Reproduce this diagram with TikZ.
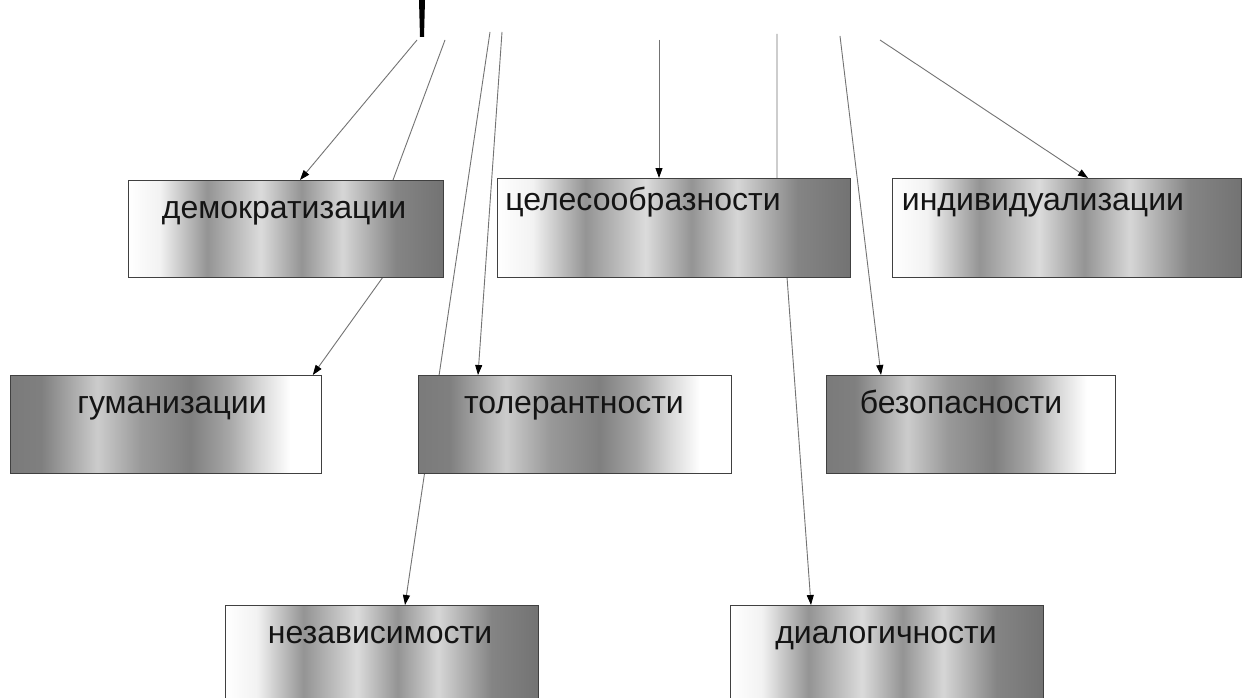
\documentclass[tikz,border=0pt]{standalone}
\usepackage{fontspec}
\setmainfont{Liberation Sans}
\usetikzlibrary{arrows.meta,backgrounds,calc}
\pgfdeclarehorizontalshading{metalA}{100bp}{color(0bp)=(white); color(25bp)=(white); color(30bp)=(black!5); color(37.5bp)=(black!42); color(46bp)=(black!14); color(52.5bp)=(black!42); color(59bp)=(black!16); color(67.5bp)=(black!48); color(75bp)=(black!55); color(100bp)=(black!55)}
\pgfdeclarehorizontalshading{metalB}{100bp}{color(0bp)=(black!52); color(25bp)=(black!52); color(30bp)=(black!50); color(39bp)=(black!20); color(46bp)=(black!40); color(54bp)=(black!50); color(60bp)=(black!35); color(65bp)=(black!16); color(70bp)=(white); color(75bp)=(white); color(100bp)=(white)}
\begin{document}
\begin{tikzpicture}[x=1pt,y=-1pt,
  pbox/.style={rectangle, draw=black!75, line width=0.8pt, inner sep=0pt, anchor=north west, minimum height=97pt},
  lbl/.style={anchor=base, inner sep=0pt, text=black!92, font=\fontsize{32}{38}\selectfont},
  conn/.style={draw=black!55, line width=0.9pt, -{Triangle[length=10pt,width=7pt,color=black]}}]
\useasboundingbox (0,0) rectangle (1247,698);
% boxes
\node[pbox, shading=metalA, minimum width=315pt] (demo) at (128,180) {};
\node[pbox, shading=metalA, minimum width=353pt, minimum height=99pt] (tsel) at (497,178) {};
\node[pbox, shading=metalA, minimum width=349pt, minimum height=99pt] (indiv) at (892,178) {};
\node[pbox, shading=metalB, minimum width=311pt, minimum height=98pt] (guman) at (10,375) {};
\node[pbox, shading=metalB, minimum width=313pt, minimum height=98pt] (tol) at (418,375) {};
\node[pbox, shading=metalB, minimum width=289pt, minimum height=98pt] (bezop) at (826,375) {};
\node[pbox, shading=metalA, minimum width=313pt] (nezav) at (225,605) {};
\node[pbox, shading=metalA, minimum width=313pt] (dialog) at (730,605) {};
% labels
\node[lbl] (demo-t) at (284,218) {демократизации};
\node[lbl] (tsel-t) at (643,210) {целесообразности};
\node[lbl] (indiv-t) at (1043,210) {индивидуализации};
\node[lbl] (guman-t) at (172,413) {гуманизации};
\node[lbl] (tol-t) at (574,413) {толерантности};
\node[lbl] (bezop-t) at (961,413) {безопасности};
\node[lbl] (nezav-t) at (380,643) {независимости};
\node[lbl] (dialog-t) at (886,643) {диалогичности};
% free ends at the cut-off title
\coordinate (s1) at (417,40);
\coordinate (s2) at (445,40);
\coordinate (s3) at (490,32);
\coordinate (s4) at (502,32);
\coordinate (s5) at (659,40);
\coordinate (s6) at (777,34);
\coordinate (s7) at (840,36);
\coordinate (s8) at (880,40);
\begin{pgfonlayer}{background}
\fill[white] (0,0) rectangle (1247,698);
\fill[black] (419,0) -- (425,0) -- (424,37) -- (420,37) -- cycle;
\draw[conn] (s1) -- ([xshift=172pt]demo.north west);
\draw[conn] (s2) -- (393,180) -- (383,277) -- ([xshift=-9pt]guman.north east);
\draw[conn] (s3) -- ([xshift=180pt]nezav.north west);
\draw[conn] (s4) -- ([xshift=60pt]tol.north west);
\draw[conn] (s5) -- ([xshift=162pt]tsel.north west);
\draw[conn] (s6) -- (777,178) -- (787,277) -- ([xshift=81pt]dialog.north west);
\draw[conn] (s7) -- ([xshift=55pt]bezop.north west);
\draw[conn] (s8) -- ([xshift=196pt]indiv.north west);
\end{pgfonlayer}
\end{tikzpicture}
\end{document}
